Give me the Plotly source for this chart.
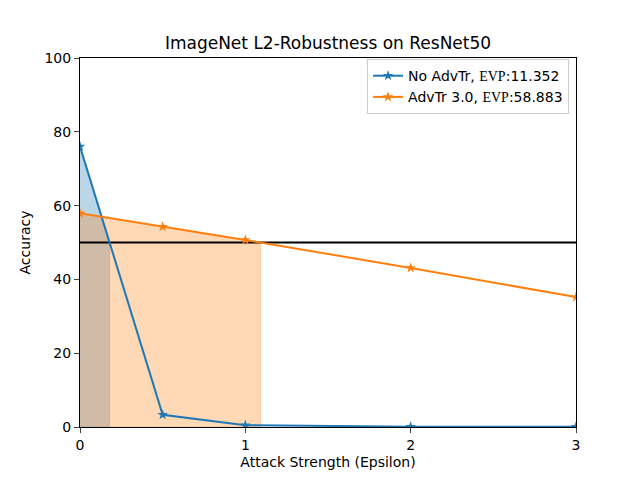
import plotly.graph_objects as go
import numpy as np

eps = [0, 0.5, 1, 2, 3]
acc_base = [76.0, 3.3, 0.5, 0.1, 0.1]
acc_adv = [57.9, 54.3, 50.7, 43.1, 35.2]
names = ["No AdvTr, ", "AdvTr 3.0, "]
evps = ["11.352", "58.883"]
colors = ["#1f77b4", "#ff7f0e"]
fills = ["rgba(31,119,180,0.3)", "rgba(255,127,14,0.3)"]
thresh = 50

fig = go.Figure()

# area under each curve up to where it drops below the threshold
for acc, fc in zip([acc_base, acc_adv], fills):
    a = np.array(acc)
    e = np.array(eps, dtype=float)
    i = np.argmax(a < thresh)
    xc = e[i-1] + (a[i-1] - thresh) / (a[i-1] - a[i]) * (e[i] - e[i-1])
    fx = list(e[:i]) + [xc, xc, 0]
    fy = list(a[:i]) + [thresh, 0, 0]
    fig.add_trace(go.Scatter(x=fx, y=fy, fill='toself', fillcolor=fc,
                             line=dict(width=0.8, color=fc), mode='lines',
                             showlegend=False, hoverinfo='skip'))

fig.add_trace(go.Scatter(x=[0, 3], y=[thresh, thresh], mode='lines',
                         line=dict(color='black', width=2), showlegend=False))

serif = '<span style="font-family:Liberation Serif">EVP</span>'
for acc, nm, ev, c in zip([acc_base, acc_adv], names, evps, colors):
    label = nm + serif + '<span style="font-family:DejaVu Sans">:' + ev + '</span>'
    fig.add_trace(go.Scatter(x=eps, y=acc, mode='lines+markers', name=label,
                             line=dict(color=c, width=2),
                             marker=dict(symbol='star', size=8, color=c)))

# page body has an 8px margin, so margins are shifted to compensate
fig.update_layout(
    width=640, height=480,
    margin=dict(l=72, r=72, t=50, b=61),
    plot_bgcolor='white', paper_bgcolor='white',
    font=dict(family='DejaVu Sans', size=14, color='black'),
    title=dict(text='ImageNet L2-Robustness on ResNet50', x=(72 + 248) / 640, xanchor='center',
               y=1 - 35/480, yanchor='middle', font=dict(size=17)),
    legend=dict(x=0.986, y=0.997, xanchor='right', yanchor='top',
                bordercolor='#cccccc', borderwidth=1, bgcolor='rgba(255,255,255,0.8)',
                font=dict(size=14), tracegroupgap=0),
)
fig.update_xaxes(range=[0, 3], tickvals=[0, 1, 2, 3], showline=True, linecolor='black',
                 mirror=True, ticks='outside', ticklen=5, showgrid=False, zeroline=False,
                 tickfont=dict(size=14),
                 title=dict(text='Attack Strength (Epsilon)', standoff=5, font=dict(size=14)))
fig.update_yaxes(range=[0, 100], tickvals=[0, 20, 40, 60, 80, 100], showline=True,
                 linecolor='black', mirror=True, ticks='outside', ticklen=5,
                 showgrid=False, zeroline=False, tickfont=dict(size=14),
                 title=dict(text='Accuracy', standoff=10, font=dict(size=14)))

fig.write_html("out.html")
